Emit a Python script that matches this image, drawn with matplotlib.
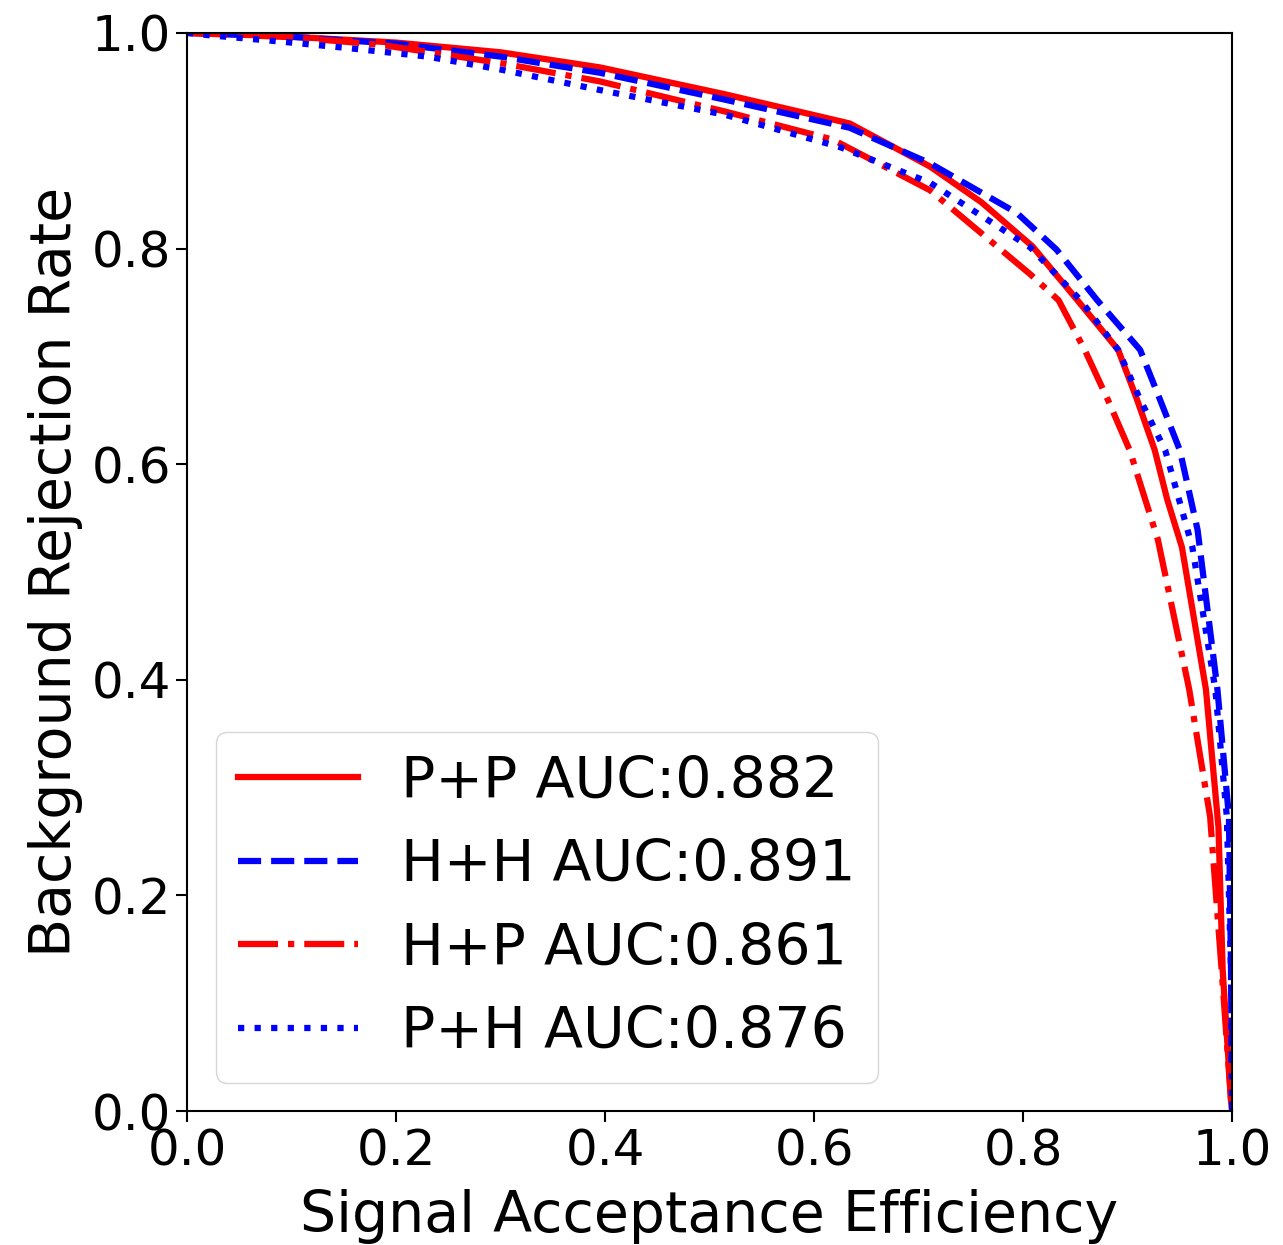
import matplotlib
matplotlib.use("Agg")
import matplotlib.pyplot as plt

# ROC curves: signal acceptance efficiency vs background rejection rate
pp_eff = [0.0, 0.089, 0.2, 0.3, 0.395, 0.515, 0.634, 0.711, 0.76, 0.809, 0.852, 0.891, 0.909, 0.926, 0.938, 0.952, 0.975, 0.987, 0.991, 0.999, 1.0]
pp_rej = [1.0, 0.997, 0.991, 0.982, 0.968, 0.943, 0.916, 0.876, 0.843, 0.802, 0.752, 0.706, 0.660, 0.613, 0.567, 0.523, 0.391, 0.263, 0.131, 0.010, 0.0]

hh_eff = [0.0, 0.089, 0.2, 0.3, 0.395, 0.515, 0.634, 0.711, 0.794, 0.832, 0.871, 0.912, 0.931, 0.950, 0.967, 0.986, 0.997, 0.999, 1.0]
hh_rej = [1.0, 0.997, 0.990, 0.978, 0.963, 0.938, 0.912, 0.879, 0.833, 0.799, 0.752, 0.706, 0.660, 0.613, 0.539, 0.391, 0.273, 0.131, 0.0]

hp_eff = [0.0, 0.1, 0.185, 0.3, 0.395, 0.515, 0.618, 0.711, 0.807, 0.834, 0.859, 0.881, 0.902, 0.929, 0.959, 0.979, 0.990, 0.999, 1.0]
hp_rej = [1.0, 0.996, 0.989, 0.972, 0.955, 0.927, 0.901, 0.854, 0.776, 0.752, 0.706, 0.660, 0.613, 0.530, 0.391, 0.273, 0.131, 0.010, 0.0]

ph_eff = [0.0, 0.019, 0.089, 0.153, 0.230, 0.3, 0.395, 0.515, 0.625, 0.711, 0.807, 0.855, 0.891, 0.912, 0.936, 0.962, 0.984, 0.995, 0.999, 1.0]
ph_rej = [1.0, 0.998, 0.992, 0.986, 0.978, 0.966, 0.947, 0.924, 0.894, 0.861, 0.801, 0.752, 0.706, 0.660, 0.613, 0.523, 0.391, 0.273, 0.130, 0.0]

labels = ["P+P AUC:0.882", "H+H AUC:0.891", "H+P AUC:0.861", "P+H AUC:0.876"]

fig = plt.figure(figsize=(12.83, 12.45), dpi=100)
ax = fig.add_axes([0.1458, 0.1076, 0.8145, 0.866])

lw = 4.5
ax.plot(pp_eff, pp_rej, color="red", linestyle="-", linewidth=lw, label=labels[0])
ax.plot(hh_eff, hh_rej, color="blue", linestyle="--", linewidth=lw, label=labels[1])
ax.plot(hp_eff, hp_rej, color="red", linestyle="-.", linewidth=lw, label=labels[2])
ax.plot(ph_eff, ph_rej, color="blue", linestyle=":", linewidth=lw, label=labels[3])

ax.set_xlim(0, 1)
ax.set_ylim(0, 1)
ticks = [0.0, 0.2, 0.4, 0.6, 0.8, 1.0]
ax.set_xticks(ticks)
ax.set_yticks(ticks)
ax.set_xticklabels([f"{t:.1f}" for t in ticks])
ax.set_yticklabels([f"{t:.1f}" for t in ticks])
ax.tick_params(axis="both", labelsize=36, length=8, width=1.5)
for s in ax.spines.values():
    s.set_linewidth(1.5)

ax.set_xlabel("Signal Acceptance Efficiency", fontsize=41, labelpad=10)
ax.set_ylabel("Background Rejection Rate", fontsize=41, labelpad=6)

leg = ax.legend(loc="lower left", fontsize=41, handlelength=2.1, borderaxespad=0.5,
                labelspacing=0.5, handletextpad=0.75, borderpad=0.4)

fig.savefig("out.png", dpi=100)
